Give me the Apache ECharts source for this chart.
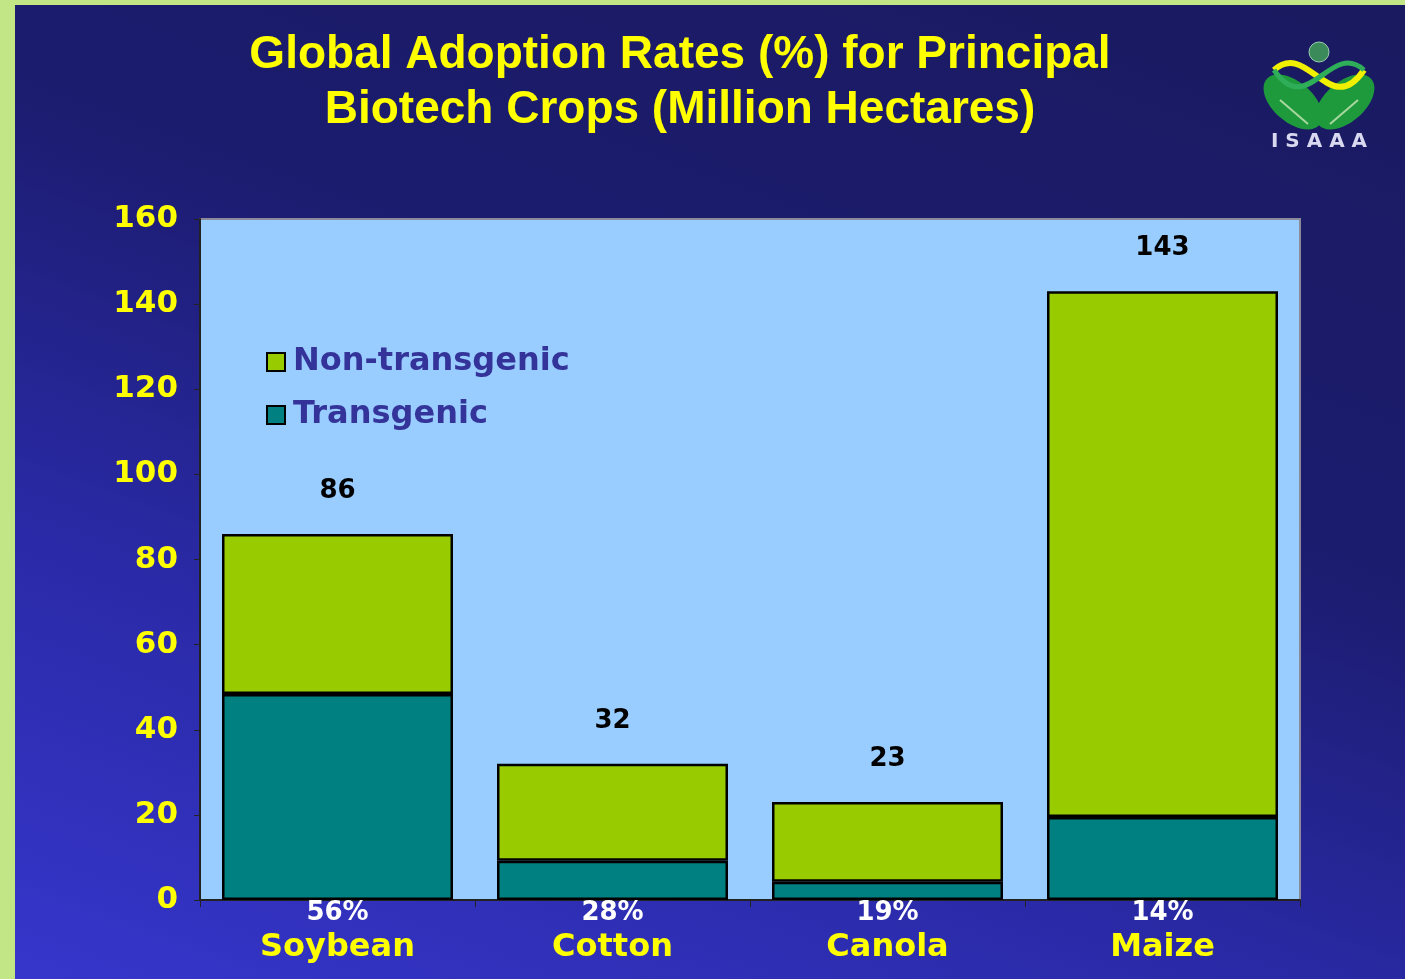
<!DOCTYPE html>
<html>
<head>
<meta charset="utf-8">
<script src="https://cdn.jsdelivr.net/npm/echarts@6.0.0/dist/echarts.min.js"></script>
<style>
  html, body { margin: 0; padding: 0; background: #c2e686; }
  #chart {
    position: absolute; left: 15px; top: 5px; width: 1390px; height: 974px;
    background: linear-gradient(20deg, #3636cc 0%, #2a2aa8 30%, #1c1c70 60%, #1a1a60 100%);
  }
</style>
</head>
<body>
<div id="chart"></div>
<script>
const crops = ['Soybean', 'Cotton', 'Canola', 'Maize']
const adoption = ['56%', '28%', '19%', '14%']
const transgenic = [48.4, 9.2, 4.3, 19.5]
const nonTransgenic = [37.6, 22.8, 18.7, 123.5]
const totals = [86, 32, 23, 143]

const chart = echarts.init(document.getElementById('chart'))

const option = {
  backgroundColor: 'transparent',
  title: {
    text: 'Global Adoption Rates (%) for Principal\nBiotech Crops (Million Hectares)',
    left: 660,
    top: 18,
    textAlign: 'center',
    textStyle: {
      color: '#ffff00',
      fontFamily: 'Liberation Sans',
      fontWeight: 'bold',
      fontSize: 46,
      lineHeight: 55,
    },
  },
  legend: {
    orient: 'vertical',
    left: 246,
    top: 336,
    icon: 'rect',
    itemWidth: 18,
    itemHeight: 18,
    itemGap: 21,
    data: ['Non-transgenic', 'Transgenic'],
    textStyle: {
      color: '#333399',
      fontFamily: 'DejaVu Sans',
      fontWeight: 'bold',
      fontSize: 32,
      padding: [0, 0, 0, 3],
    },
    itemStyle: { borderColor: '#000', borderWidth: 2 },
  },
  grid: {
    left: 185,
    right: 105,
    top: 214,
    bottom: 79,
    show: true,
    backgroundColor: '#99ccff',
    borderColor: '#8a8a9a',
    borderWidth: 2,
  },
  xAxis: {
    type: 'category',
    data: crops,
    axisLine: { lineStyle: { color: '#222', width: 2 } },
    axisTick: { show: true, length: 7, lineStyle: { color: '#222' } },
    axisLabel: {
      margin: 0,
      formatter: (v, i) => '{p|' + adoption[i] + '}\n{c|' + v + '}',
      rich: {
        p: { color: '#fff', fontFamily: 'DejaVu Sans', fontWeight: 'bold', fontSize: 26, lineHeight: 26 },
        c: { color: '#ffff00', fontFamily: 'DejaVu Sans', fontWeight: 'bold', fontSize: 32, lineHeight: 44 },
      },
    },
  },
  yAxis: {
    type: 'value',
    min: 0,
    max: 160,
    interval: 20,
    splitLine: { show: false },
    axisLine: { show: true, lineStyle: { color: '#222', width: 2 } },
    axisTick: { show: true, length: 6, inside: false, lineStyle: { color: '#222' } },
    axisLabel: {
      margin: 22,
      color: '#ffff00',
      fontFamily: 'DejaVu Sans',
      fontWeight: 'bold',
      fontSize: 31,
      padding: [3, 0, 0, 0],
    },
  },
  series: [
    {
      name: 'Transgenic',
      type: 'bar',
      stack: 'area',
      barWidth: '84%',
      data: transgenic,
      itemStyle: { color: '#008080', borderColor: '#000', borderWidth: 2.5 },
    },
    {
      name: 'Non-transgenic',
      type: 'bar',
      stack: 'area',
      barWidth: '84%',
      data: nonTransgenic,
      itemStyle: { color: '#99cc00', borderColor: '#000', borderWidth: 2.5 },
      label: {
        show: true,
        position: 'top',
        distance: 30,
        formatter: (p) => totals[p.dataIndex],
        color: '#000',
        fontFamily: 'DejaVu Sans',
        fontWeight: 'bold',
        fontSize: 26,
      },
    },
  ],
  graphic: [
    {
      type: 'group',
      x: 1253,
      y: 31,
      children: [
        { type: 'ellipse', shape: { cx: 25, cy: 66, rx: 20, ry: 35 }, rotation: 0.85, originX: 25, originY: 66, style: { fill: '#1e9a3c' } },
        { type: 'ellipse', shape: { cx: 77, cy: 66, rx: 20, ry: 35 }, rotation: -0.85, originX: 77, originY: 66, style: { fill: '#1e9a3c' } },
        { type: 'line', shape: { x1: 12, y1: 64, x2: 40, y2: 88 }, style: { stroke: '#a8d8a0', lineWidth: 2 } },
        { type: 'line', shape: { x1: 90, y1: 64, x2: 62, y2: 88 }, style: { stroke: '#a8d8a0', lineWidth: 2 } },
        { type: 'bezierCurve', shape: { x1: 6, y1: 34, x2: 96, y2: 34, cpx1: 40, cpy1: 4, cpx2: 62, cpy2: 84 }, style: { stroke: '#f0f000', lineWidth: 6, fill: null } },
        { type: 'bezierCurve', shape: { x1: 6, y1: 34, x2: 96, y2: 34, cpx1: 40, cpy1: 84, cpx2: 62, cpy2: 4 }, style: { stroke: '#2fae5a', lineWidth: 5, fill: null } },
        { type: 'circle', shape: { cx: 51, cy: 16, r: 10 }, style: { fill: '#3a8a5a', stroke: '#9ad0b0', lineWidth: 1 } },
        { type: 'text', x: 51, y: 106, style: { text: 'I S A A A', fill: '#d8d8f0', font: 'bold 20px "DejaVu Sans"', align: 'center', verticalAlign: 'middle' } },
      ],
    },
  ],
}

chart.setOption(option)
</script>
</body>
</html>
